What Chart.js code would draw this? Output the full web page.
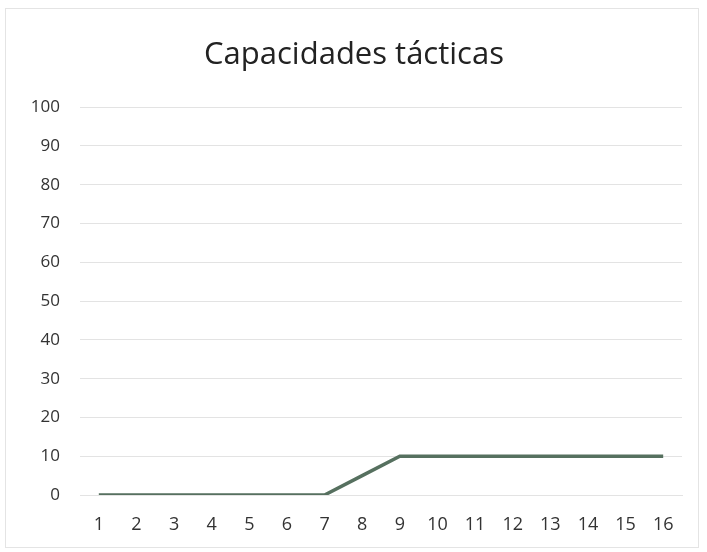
<!DOCTYPE html>
<html>
<head>
<meta charset="utf-8">
<script src="https://cdn.jsdelivr.net/npm/chart.js@4/dist/chart.umd.min.js"></script>
<style>
  html, body { margin: 0; padding: 0; background: #ffffff; }
  #frame {
    position: absolute; left: 5px; top: 8px; width: 694px; height: 540px;
    border: 1px solid #e4e4e4; box-sizing: border-box;
  }
  #wrap { position: absolute; left: 0; top: 0; width: 707px; height: 552px; }
</style>
</head>
<body>
<div id="frame"></div>
<div id="wrap"><canvas id="c" width="707" height="552"></canvas></div>
<script>
// Sessions and the tactical-skill score for each one
const sessions = ['1','2','3','4','5','6','7','8','9','10','11','12','13','14','15','16'];
const scores = [0, 0, 0, 0, 0, 0, 0, 5, 10, 10, 10, 10, 10, 10, 10, 10];
const chartTitle = 'Capacidades tácticas';
const yMin = 0, yMax = 100, yStep = 10;

const textColor = '#333333';
const gridColor = '#e3e3e3';

new Chart(document.getElementById('c'), {
  type: 'line',
  data: {
    labels: sessions,
    datasets: [{
      data: scores,
      borderColor: '#56705f',
      borderWidth: 3.5,
      pointRadius: 0,
      tension: 0,
      fill: false
    }]
  },
  options: {
    responsive: false,
    animation: false,
    layout: { padding: { top: 37, right: 25, bottom: 0, left: 26 } },
    plugins: {
      legend: { display: false },
      tooltip: { enabled: false },
      title: {
        display: true,
        text: chartTitle,
        color: '#222222',
        font: { family: 'Open Sans', size: 31, weight: 'normal' },
        padding: { top: 0, bottom: 33 }
      }
    },
    scales: {
      x: {
        offset: true,
        grid: { display: false, drawTicks: false },
        border: { display: true, color: gridColor, width: 1 },
        ticks: {
          color: textColor,
          font: { family: 'Open Sans', size: 18 },
          padding: 19,
          maxRotation: 0
        },
        afterFit(axis) { axis.height = 57; }
      },
      y: {
        min: yMin, max: yMax,
        grid: { color: gridColor, drawTicks: false, lineWidth: 1 },
        border: { display: false },
        ticks: {
          stepSize: yStep,
          color: textColor,
          font: { family: 'Open Sans', size: 17 },
          padding: 20
        },
        afterFit(axis) { axis.width = 54; }
      }
    }
  }
});
</script>
</body>
</html>
